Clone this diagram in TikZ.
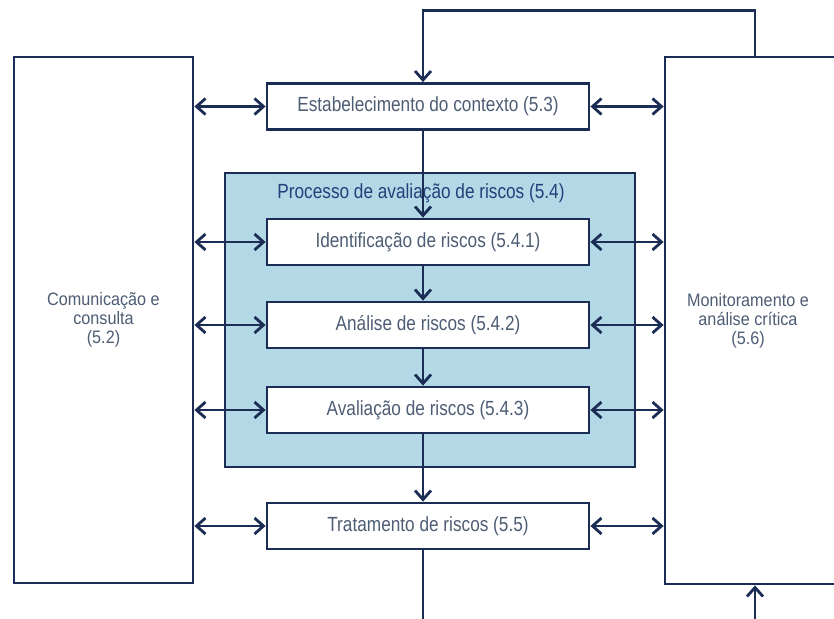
\documentclass[tikz,border=0pt]{standalone}
\usepackage{fontspec}
\setmainfont{Liberation Sans}
\newfontfamily\narrowfont{Liberation Sans}[FakeStretch=0.84]
\newfontfamily\sidefont{Liberation Sans}[FakeStretch=0.9]
\usepackage{xcolor}
\usepackage{tikz}
\usetikzlibrary{arrows.meta,positioning}

\definecolor{navy}{HTML}{1B2D55}
\definecolor{boxtext}{HTML}{4D5D74}
\definecolor{titletext}{HTML}{22407A}
\definecolor{procfill}{HTML}{B3D9E6}

\begin{document}
\begin{tikzpicture}[x=1pt,y=-1pt]
        \edef\linew{2.8pt}
        \tikzstyle{stepbox}=[draw=navy,fill=white,line width=\linew,minimum width=322pt,minimum height=46pt,inner sep=0pt,text=boxtext,font=\narrowfont\fontsize{20.5}{24}\selectfont]
        \tikzstyle{sidebox}=[draw=navy,fill=white,line width=\linew,minimum width=179pt,minimum height=526pt,align=center,text=boxtext,font=\sidefont\fontsize{18}{19}\selectfont]
        \tikzstyle{flow}=[draw=navy,line width=\linew,-{Straight Barb[length=9pt,width=16pt]}]
        \tikzstyle{both}=[flow,{Straight Barb[length=9pt,width=16pt]}-{Straight Barb[length=9pt,width=16pt]}]

        \useasboundingbox (0,0) rectangle (834,618);
        \clip (0,0) rectangle (834,618);

        %% Side boxes
        \node [sidebox] (com) at (103.5,320) {Comunica\c{c}\~ao e\\consulta\\(5.2)};
        \node [sidebox,minimum width=180pt,minimum height=527pt] (mon) at (755,320.5) {};
        \node [text=boxtext,align=center,font=\sidefont\fontsize{18}{19}\selectfont] (montext) at (748,321) {Monitoramento e\\an\'alise cr\'itica\\(5.6)};

        %% Risk assessment frame
        \node [draw=navy,fill=procfill,line width=\linew,minimum width=410pt,minimum height=294pt] (proc) at (430,320) {};
        \node [text=titletext,font=\narrowfont\fontsize{20.5}{24}\selectfont] (title) at (421,193) {Processo de avalia\c{c}\~ao de riscos (5.4)};

        %% Steps
        \node [stepbox] (estab) at (428,106.5) {Estabelecimento do contexto (5.3)};
        \node [stepbox] (ident) at (428,242) {Identifica\c{c}\~ao de riscos (5.4.1)};
        \node [stepbox] (anal) at (428,325) {An\'alise de riscos (5.4.2)};
        \node [stepbox] (aval) at (428,410) {Avalia\c{c}\~ao de riscos (5.4.3)};
        \node [stepbox] (trat) at (428,526) {Tratamento de riscos (5.5)};

        %% Flow down the middle
        \draw [flow] ([xshift=-5pt]estab.south) -- ([xshift=-5pt]ident.north);
        \draw [flow] ([xshift=-5pt]ident.south) -- ([xshift=-5pt]anal.north);
        \draw [flow] ([xshift=-5pt]anal.south) -- ([xshift=-5pt]aval.north);
        \draw [flow] ([xshift=-5pt]aval.south) -- ([xshift=-5pt]trat.north);

        %% Feedback loops
        \draw [flow] (mon.north) -- ++(0,-45) -| ([xshift=-5pt]estab.north);
        \draw [flow] ([xshift=-5pt]trat.south) -- ++(0,90) -| (mon.south);

        %% Links to both side boxes
        \foreach \s in {estab,ident,anal,aval,trat} {
            \draw [both] (com.east |- \s) -- (\s.west);
            \draw [both] (\s.east) -- (mon.west |- \s);
        }
\end{tikzpicture}
\end{document}
